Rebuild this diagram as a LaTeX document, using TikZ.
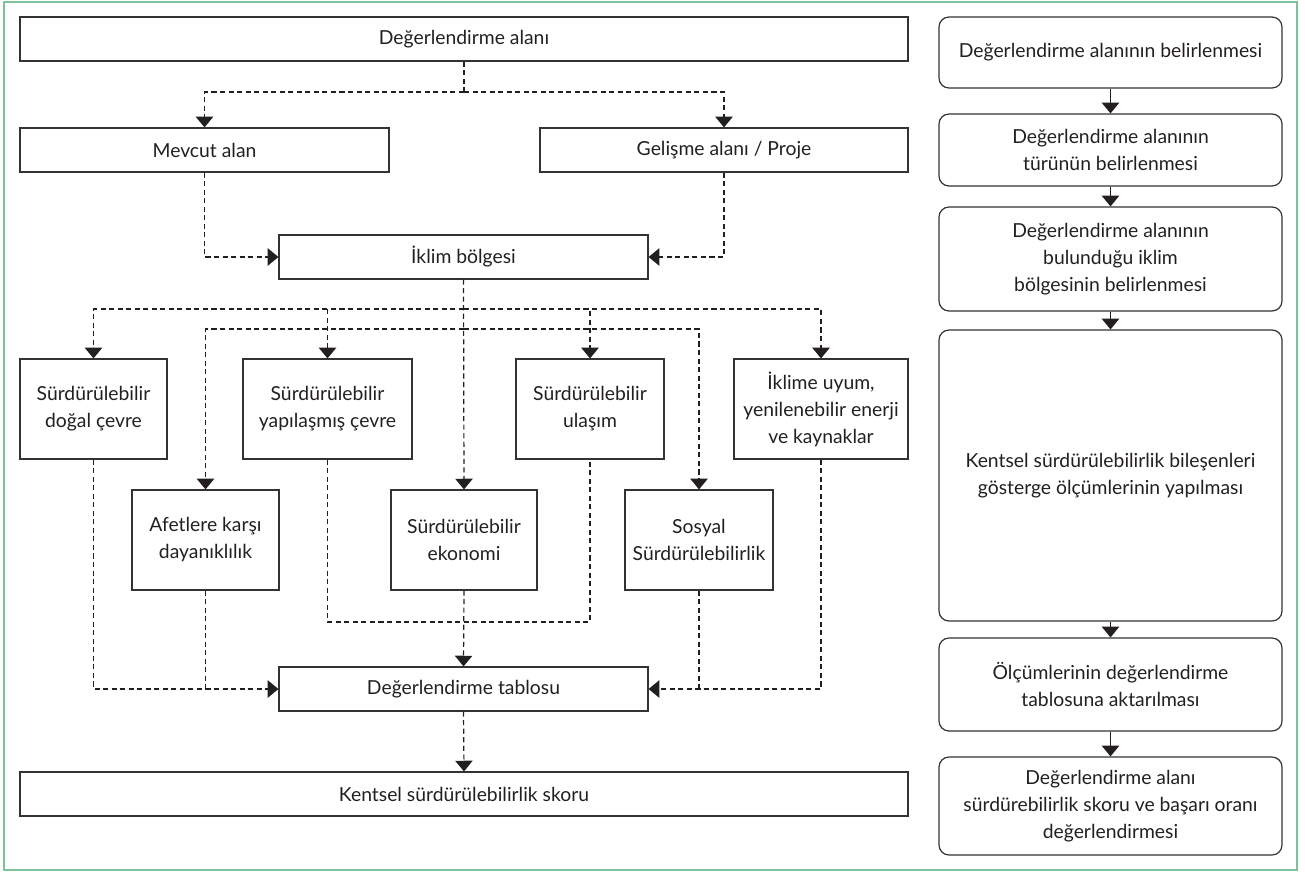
\documentclass[tikz,border=0pt]{standalone}
\usepackage{fontspec}
\setmainfont{Lato}
\usetikzlibrary{arrows.meta}

\definecolor{framegreen}{RGB}{125,194,155}
\definecolor{boxline}{RGB}{51,51,51}
\definecolor{inkdark}{RGB}{35,31,32}

\tikzset{
    every picture/.style={line width=0.9pt},
    box/.style={draw=boxline, inner sep=0pt, align=center, text=inkdark,
        font=\fontsize{14.5}{20.25}\selectfont},
    stepbox/.style={box, rounded corners=7.5pt},
    dashline/.style={draw=inkdark, dash pattern=on 3.8pt off 2.6pt,
        -{Triangle[width=13pt,length=8pt]}},
    dashjoin/.style={draw=inkdark, dash pattern=on 3.8pt off 2.6pt},
    stepline/.style={draw=inkdark, -{Triangle[width=13pt,length=8pt]}}
}

\begin{document}
\begin{tikzpicture}[x=0.75pt,y=0.75pt,yscale=-1]
    \useasboundingbox (0,0) rectangle (1305,872);
    \draw [framegreen, line width=1.1pt] (4,2) rectangle (1297,870);

    \node (alan) [box][minimum width=666pt, minimum height=33pt] at (464,39) {Değerlendirme alanı};
    \node (mevcut) [box][minimum width=276.75pt, minimum height=33pt] at (204.5,150) {Mevcut alan};
    \node (gelisme) [box][minimum width=276pt, minimum height=33pt] at (724,150) {Gelişme alanı / Proje};
    \node (iklim) [box][minimum width=276.75pt, minimum height=33pt] at (463.5,257) {İklim bölgesi};

    \node (dogal) [box][minimum width=110.25pt, minimum height=75pt] at (93.5,409) {Sürdürülebilir\\doğal çevre};
    \node (yapi) [box][minimum width=126.75pt, minimum height=75pt] at (327.5,409) {Sürdürülebilir\\yapılaşmış çevre};
    \node (ulasim) [box][minimum width=111pt, minimum height=75pt] at (590,409) {Sürdürülebilir\\ulaşım};
    \node (uyum) [box][minimum width=130.5pt, minimum height=75pt] at (821,409) {İklime uyum,\\yenilenebilir enerji\\ve kaynaklar};

    \node (afet) [box][minimum width=110.25pt, minimum height=75pt] at (205.5,540) {Afetlere karşı\\dayanıklılık};
    \node (ekonomi) [box][minimum width=109.5pt, minimum height=75pt] at (464,540) {Sürdürülebilir\\ekonomi};
    \node (sosyal) [box][minimum width=111pt, minimum height=75pt] at (699,540) {Sosyal\\Sürdürülebilirlik};

    \node (tablo) [box][minimum width=276.75pt, minimum height=33pt] at (463.5,689) {Değerlendirme tablosu};
    \node (skor) [box][minimum width=666pt, minimum height=33pt] at (464,794) {Kentsel sürdürülebilirlik skoru};

    \node (s1) [stepbox][minimum width=257.25pt, minimum height=53.25pt] at (1110.5,52.5) {Değerlendirme alanının belirlenmesi};
    \node (s2) [stepbox][minimum width=257.25pt, minimum height=54pt] at (1110.5,150) {Değerlendirme alanının\\türünün belirlenmesi};
    \node (s3) [stepbox][minimum width=257.25pt, minimum height=78pt] at (1110.5,259) {Değerlendirme alanının\\bulunduğu iklim\\bölgesinin belirlenmesi};
    \node (s4) [stepbox][minimum width=257.25pt, minimum height=218.25pt] at (1110.5,475.5) {Kentsel sürdürülebilirlik bileşenleri\\gösterge ölçümlerinin yapılması};
    \node (s5) [stepbox][minimum width=257.25pt, minimum height=69.75pt] at (1110.5,684.5) {Ölçümlerinin değerlendirme\\tablosuna aktarılması};
    \node (s6) [stepbox][minimum width=257.25pt, minimum height=73.5pt] at (1110.5,806) {Değerlendirme alanı\\sürdürebilirlik skoru ve başarı oranı\\değerlendirmesi};

    \coordinate (j1) at (464,92);
    \coordinate (j2) at (464,309);
    \coordinate (j3) at (464,329);
    \coordinate (j4) at (464,622);

    \draw [dashjoin] (alan.south) -- (j1);
    \draw [dashline] (j1) -| (mevcut.north);
    \draw [dashline] (j1) -| (gelisme.north);
    \draw [dashline] (mevcut.south) |- (iklim.west);
    \draw [dashline] (gelisme.south) |- (iklim.east);

    \draw [dashline] (iklim.south) -- (ekonomi.north);
    \draw [dashline] (j2) -| (dogal.north);
    \draw [dashline] (j2) -| (yapi.north);
    \draw [dashline] (j2) -| (ulasim.north);
    \draw [dashline] (j2) -| (uyum.north);
    \draw [dashline] (j3) -| (afet.north);
    \draw [dashline] (j3) -| (sosyal.north);

    \draw [dashline] (dogal.south) |- (tablo.west);
    \draw [dashjoin] (afet.south) -- (afet.south |- tablo.west);
    \draw [dashjoin] (yapi.south) -- (yapi.south |- j4) -| (ulasim.south);
    \draw [dashline] (ekonomi.south) -- (tablo.north);
    \draw [dashline] (uyum.south) |- (tablo.east);
    \draw [dashjoin] (sosyal.south) -- (sosyal.south |- tablo.east);
    \draw [dashline] (tablo.south) -- (skor.north);

    \draw [stepline] (s1) -- (s2);
    \draw [stepline] (s2) -- (s3);
    \draw [stepline] (s3) -- (s4);
    \draw [stepline] (s4) -- (s5);
    \draw [stepline] (s5) -- (s6);
\end{tikzpicture}
\end{document}
